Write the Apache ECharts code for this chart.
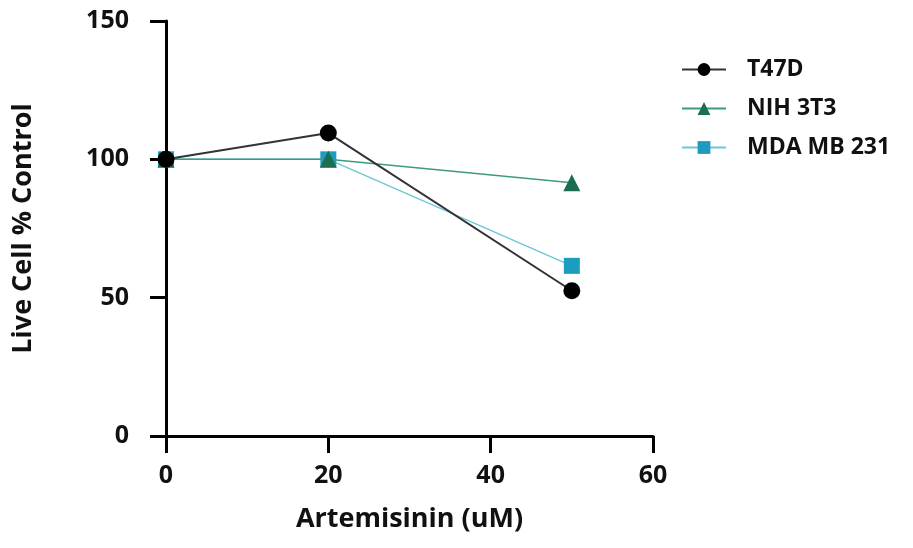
<!DOCTYPE html>
<html>
<head>
<meta charset="utf-8">
<script src="https://cdn.jsdelivr.net/npm/echarts@6/dist/echarts.min.js"></script>
<style>
  html, body { margin: 0; padding: 0; background: #fff; }
  #chart { width: 913px; height: 548px; }
</style>
</head>
<body>
<div id="chart"></div>
<script>
// doses (uM)
var doses = [0, 20, 50];
var t47d = [100, 109.5, 52.5];
var nih3t3 = [100, 100, 91.5];
var mda231 = [100, 100, 61.5];
var xTicks = [0, 20, 40, 60];
var yTicks = [0, 50, 100, 150];

var font = "'Open Sans', 'Liberation Sans', sans-serif";

function pairs(xs, ys) {
  return xs.map(function (x, i) { return [x, ys[i]]; });
}

var myChart = echarts.init(document.getElementById("chart"));

var option = {
  animation: false,
  backgroundColor: "#fff",
  grid: { left: 166, right: 260, top: 21, bottom: 112, containLabel: false },
  legend: {
    orient: "vertical",
    left: 676,
    top: 53,
    itemWidth: 44,
    itemHeight: 16,
    itemGap: 16,
    textStyle: { fontFamily: font, fontWeight: "bold", fontSize: 23, color: "#111", padding: [0, 0, 0, 16] },
    data: ["T47D", "NIH 3T3", "MDA MB 231"]
  },
  xAxis: {
    type: "value",
    min: 0,
    max: 60,
    interval: 20,
    name: "Artemisinin (uM)",
    nameLocation: "middle",
    nameGap: 70,
    nameTextStyle: { fontFamily: font, fontWeight: "bold", fontSize: 27, color: "#111" },
    axisLine: { show: true, lineStyle: { color: "#000", width: 3 } },
    axisTick: { show: true, length: 17, lineStyle: { color: "#000", width: 3 } },
    axisLabel: { fontFamily: font, fontWeight: "bold", fontSize: 25, color: "#111", margin: 27,
      formatter: function (v) { return xTicks.indexOf(v) >= 0 ? String(v) : ""; } },
    splitLine: { show: false }
  },
  yAxis: {
    type: "value",
    min: 0,
    max: 150,
    interval: 50,
    name: "Live Cell % Control",
    nameLocation: "middle",
    nameGap: 129,
    nameTextStyle: { fontFamily: font, fontWeight: "bold", fontSize: 27, color: "#111" },
    axisLine: { show: true, lineStyle: { color: "#000", width: 3 } },
    axisTick: { show: true, length: 16, lineStyle: { color: "#000", width: 3 } },
    axisLabel: { fontFamily: font, fontWeight: "bold", fontSize: 25, color: "#111", margin: 37,
      formatter: function (v) { return yTicks.indexOf(v) >= 0 ? String(v) : ""; } },
    splitLine: { show: false }
  },
  series: [
    {
      name: "MDA MB 231",
      type: "line",
      data: pairs(doses, mda231),
      symbol: "rect",
      symbolSize: 16,
      z: 2,
      lineStyle: { color: "#6cc8d6", width: 1.5 },
      itemStyle: { color: "#1b9cc0", borderWidth: 0 }
    },
    {
      name: "NIH 3T3",
      type: "line",
      data: pairs(doses, nih3t3),
      symbol: "triangle",
      symbolSize: 17,
      z: 3,
      lineStyle: { color: "#3e9a7c", width: 1.5 },
      itemStyle: { color: "#1c6e50", borderWidth: 0 }
    },
    {
      name: "T47D",
      type: "line",
      data: pairs(doses, t47d),
      symbol: "circle",
      symbolSize: 17,
      z: 4,
      lineStyle: { color: "#333", width: 2 },
      itemStyle: { color: "#000", borderWidth: 0 }
    }
  ]
};

myChart.setOption(option);
</script>
</body>
</html>
